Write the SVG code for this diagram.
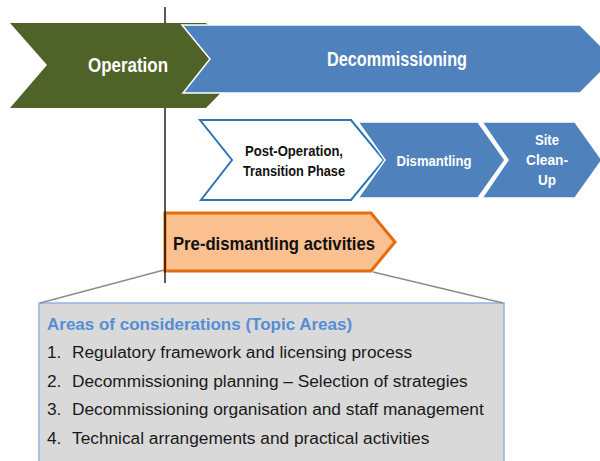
<svg xmlns="http://www.w3.org/2000/svg" width="600" height="461" viewBox="0 0 600 461">
  <style>
    .lbl { font-family: "Liberation Sans", Arial, sans-serif; font-weight: bold; text-anchor: middle; }
    .white { fill: #FFFFFF; }
    .dark { fill: #111111; }
    .step { fill: #4F81BD; stroke: #FFFFFF; stroke-width: 1.5; }
    .list { font-family: "Liberation Sans", Arial, sans-serif; font-size: 17.3px; fill: #1A1A1A; }
    .guide { stroke: #8C8C8C; stroke-width: 1.5; fill: none; }
    .axis { stroke: #000000; stroke-width: 1.3; fill: none; }
  </style>

  <rect width="600" height="461" fill="#FFFFFF"/>

  <!-- Main phases -->
  <g id="operation">
    <polygon points="10,23 206,23 248,65 206,108 10,108 47,65" fill="#4F6228"/>
    <text class="lbl white" x="128" y="72" font-size="20" textLength="80" lengthAdjust="spacingAndGlyphs">Operation</text>
  </g>

  <g id="decommissioning">
    <polygon points="182,25 580,25 614,59 580,93 183,93 210,59" fill="#4F81BD" stroke="#FFFFFF" stroke-width="1.5"/>
    <text class="lbl white" x="397" y="66" font-size="20" textLength="140" lengthAdjust="spacingAndGlyphs">Decommissioning</text>
  </g>

  <!-- Decommissioning sub-phases -->
  <g id="post-operation">
    <polygon points="200,120 351,120 384,160 351,200 201,200 232,160" fill="#FFFFFF" stroke="#2E75B6" stroke-width="2"/>
    <text class="lbl dark" x="294" y="156" font-size="14.5" textLength="98" lengthAdjust="spacingAndGlyphs">Post-Operation,</text>
    <text class="lbl dark" x="294" y="176" font-size="14.5" textLength="102" lengthAdjust="spacingAndGlyphs">Transition Phase</text>
  </g>

  <g id="dismantling">
    <polygon class="step" points="358,122 478,122 505,160 478,198 358,198 385,160"/>
    <text class="lbl white" x="434" y="166" font-size="14.5" textLength="75" lengthAdjust="spacingAndGlyphs">Dismantling</text>
  </g>

  <g id="site-clean-up">
    <polygon class="step" points="482,122 575,122 602,160 575,198 482,198 508,160"/>
    <text class="lbl white" x="547" y="145" font-size="14.5" textLength="24" lengthAdjust="spacingAndGlyphs">Site</text>
    <text class="lbl white" x="547" y="165" font-size="14.5" textLength="42" lengthAdjust="spacingAndGlyphs">Clean-</text>
    <text class="lbl white" x="547" y="185" font-size="14.5" textLength="18" lengthAdjust="spacingAndGlyphs">Up</text>
  </g>

  <!-- Pre-dismantling activities -->
  <g id="pre-dismantling">
    <polygon points="165,213 371,213 395,242 371,271 165,271" fill="#FAC090" stroke="#E46C0A" stroke-width="3" stroke-linejoin="miter"/>
    <text class="lbl dark" x="274" y="250" font-size="18.5" textLength="202" lengthAdjust="spacingAndGlyphs">Pre-dismantling activities</text>
  </g>

  <!-- Topic areas box -->
  <g id="topic-areas">
    <rect x="39" y="303" width="465" height="170" fill="#D9D9D9" stroke="#8EB4E3" stroke-width="1.5"/>
    <text x="47" y="330" font-family="Liberation Sans, Arial, sans-serif" font-size="17" font-weight="bold" fill="#558ED5">Areas of considerations (Topic Areas)</text>
    <text class="list" x="47" y="358">1.</text>
    <text class="list" x="72" y="358">Regulatory framework and licensing process</text>
    <text class="list" x="47" y="386.5">2.</text>
    <text class="list" x="72" y="386.5">Decommissioning planning – Selection of strategies</text>
    <text class="list" x="47" y="415">3.</text>
    <text class="list" x="72" y="415">Decommissioning organisation and staff management</text>
    <text class="list" x="47" y="443.5">4.</text>
    <text class="list" x="72" y="443.5">Technical arrangements and practical activities</text>
  </g>

  <!-- Connectors: timeline marker and zoom-out guides -->
  <g id="connectors">
    <line class="axis" x1="165" y1="7" x2="165" y2="23"/>
    <line class="axis" x1="165" y1="108" x2="165" y2="283"/>
    <line class="guide" x1="164" y1="270" x2="40" y2="303"/>
    <line class="guide" x1="373" y1="272" x2="503" y2="303"/>
  </g>
</svg>
